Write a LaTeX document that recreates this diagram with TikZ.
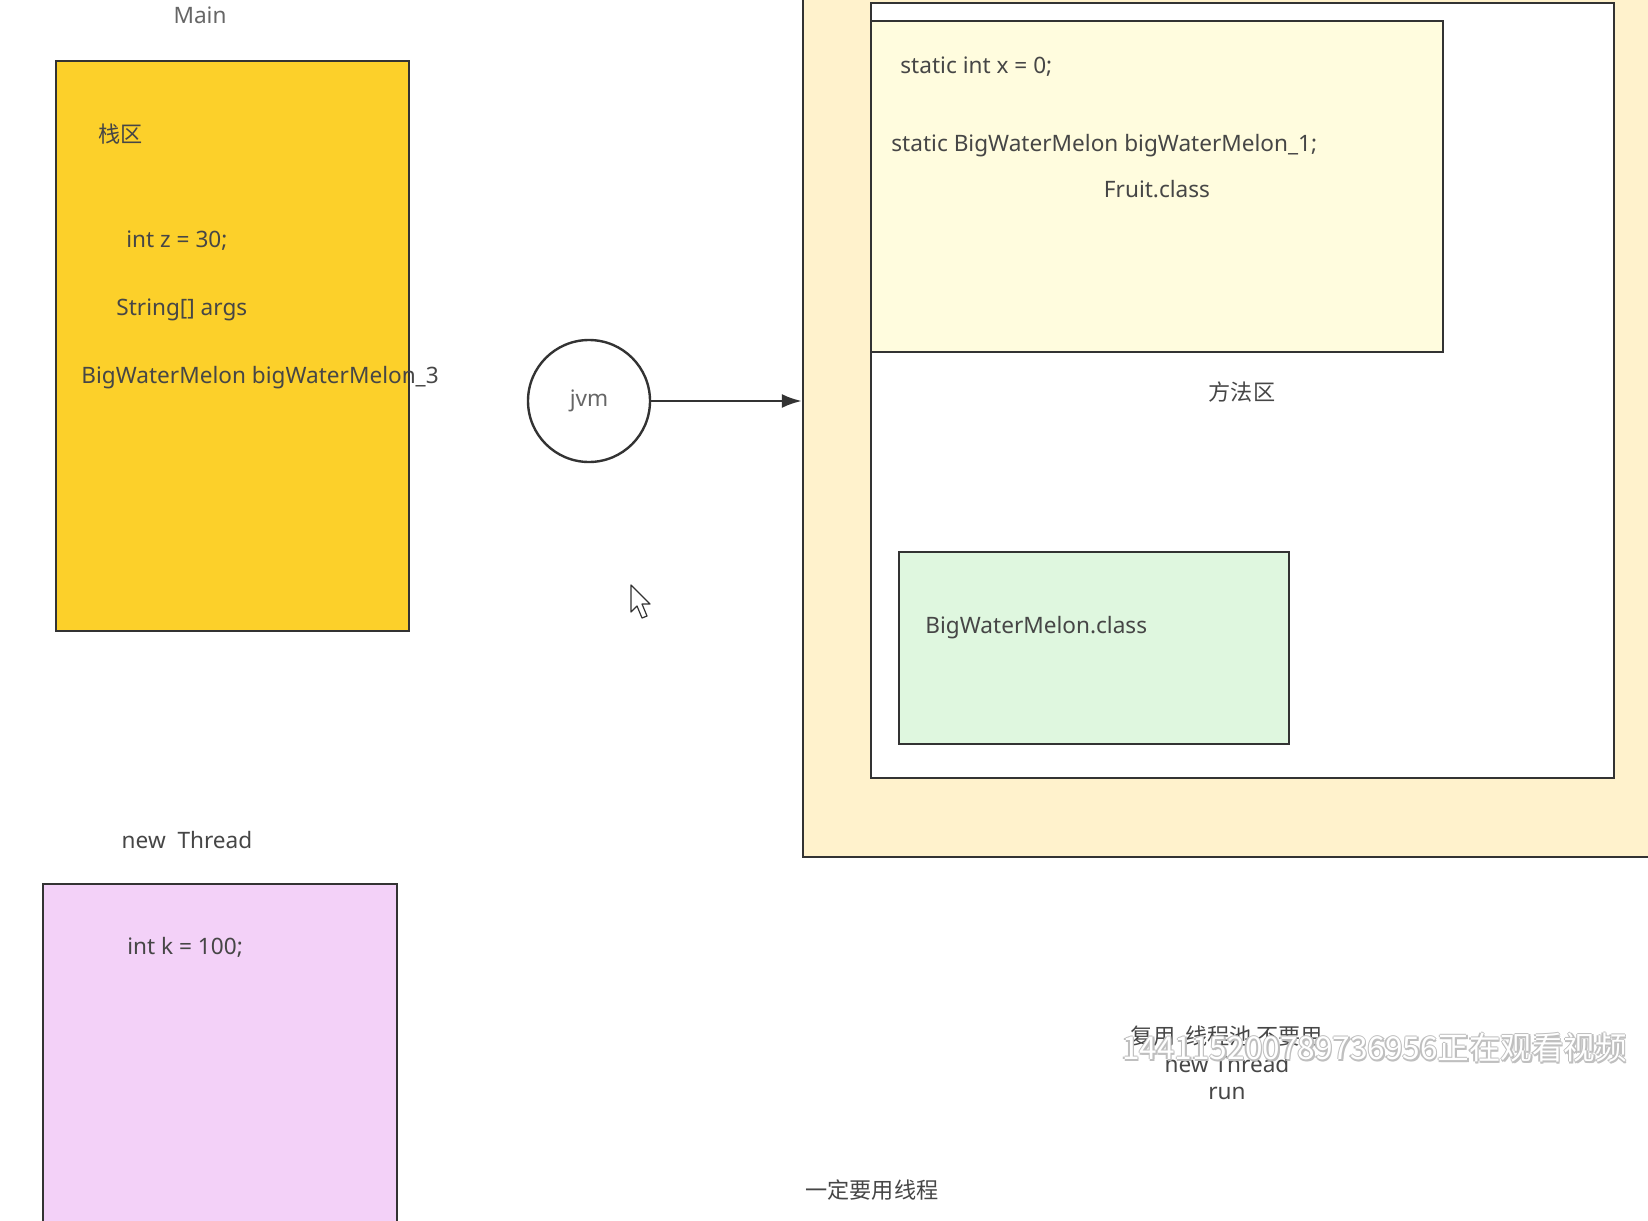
\documentclass[tikz,border=0pt]{standalone}
\usepackage{fontspec}
\setmainfont{Noto Sans}
\newfontfamily\cjk[Scale=0.98]{Noto Sans CJK SC}
\usetikzlibrary{fit,arrows.meta}
\definecolor{stackyellow}{RGB}{252, 208, 42}
\definecolor{heapbeige}{RGB}{255, 242, 204}
\definecolor{classyellow}{RGB}{255, 252, 222}
\definecolor{classgreen}{RGB}{223, 247, 223}
\definecolor{threadpink}{RGB}{243, 209, 248}
\definecolor{textgray}{RGB}{70, 70, 70}

\begin{document}
\begin{tikzpicture}[x=0.5pt, y=-0.5pt,
    area/.style={draw=black!80, line width=1.2pt, inner sep=0pt},
    label/.style={text=textgray, inner sep=0pt, font=\fontsize{11.3}{13}\selectfont},
    code/.style={label, anchor=west}]
    \useasboundingbox (0,0) rectangle (1648,1220);
    \clip (0,0) rectangle (1648,1220);
    % Main thread stack
    \node[area, fill=stackyellow, fit={(56,61) (409,631)}] (stack) {};
    \node[label, text=black!60] (mainlabel) at (200,15) {Main};
    \node[code] (stackname) at (98,134) {\cjk 栈区};
    \node[code] (varz) at (126,241) {int z = 30;};
    \node[code] (args) at (116,310) {String[] args};
    \node[code] (melon3) at (81,378) {BigWaterMelon bigWaterMelon\_3};
    % Second thread stack
    \node[area, fill=threadpink, fit={(43,884) (397,1240)}] (thread) {};
    \node[label] (threadlabel) at (187,840) {new\ \ Thread};
    \node[code] (vark) at (127,947) {int k = 100;};
    % JVM memory
    \node[area, fill=heapbeige, fit={(803,-10) (1670,857)}] (heap) {};
    \node[area, fill=white, fit={(871,3) (1614,778)}] (method) {};
    \node[area, fill=classyellow, fit={(871,21) (1443,352)}] (fruit) {};
    \node[code] (xvar) at (900,67) {static int x = 0;};
    \node[code] (melon1) at (891,146) {static BigWaterMelon bigWaterMelon\_1;};
    \node[label] (fruitname) at (1157,189) {Fruit.class};
    \node[label] (methodname) at (1242,392) {\cjk 方法区};
    \node[area, fill=classgreen, fit={(899,552) (1289,744)}] (melon) {};
    \node[code] (melonname) at (925,628) {BigWaterMelon.class};
    % jvm & arrow
    \node[circle, draw=black!80, line width=1.2pt, minimum size=61pt, label, text=black!60] (jvm) at (589,401) {jvm};
    \draw[line width=1.2pt, draw=black!80, -{Latex[length=10pt, width=7pt]}] (jvm) -- (jvm -| heap.west);
    % Notes
    \node[label] (reuse) at (1227,1036) {\cjk 复用\ \ 线程池 不要用};
    \node[label] (newthread) at (1227,1064) {new Thread};
    \node[label] (run) at (1227,1093) {run};
    \node[label, anchor=west] (mustuse) at (805,1190) {\cjk 一定要用线程};
    % Watermark
    \foreach \dx/\dy in {-1.5/0, 1.5/0, 0/-1.5, 0/1.5, 1.5/1.5}
        \node[anchor=west, inner sep=0pt, text=black!25, font=\cjk\fontsize{16.1}{17}\selectfont] at (1122+\dx,1048+\dy) {144115200789736956正在观看视频};
    \node[anchor=west, inner sep=0pt, text=white, font=\cjk\fontsize{16.1}{17}\selectfont] (watermark) at (1122,1048) {144115200789736956正在观看视频};
    % Mouse cursor
    \draw[black!80, fill=white, line width=0.6pt, line join=round]
        (631,585) -- (631,612) -- (637,606) -- (642,618) -- (647,616) -- (642,604) -- (650,604) -- cycle;
\end{tikzpicture}
\end{document}
